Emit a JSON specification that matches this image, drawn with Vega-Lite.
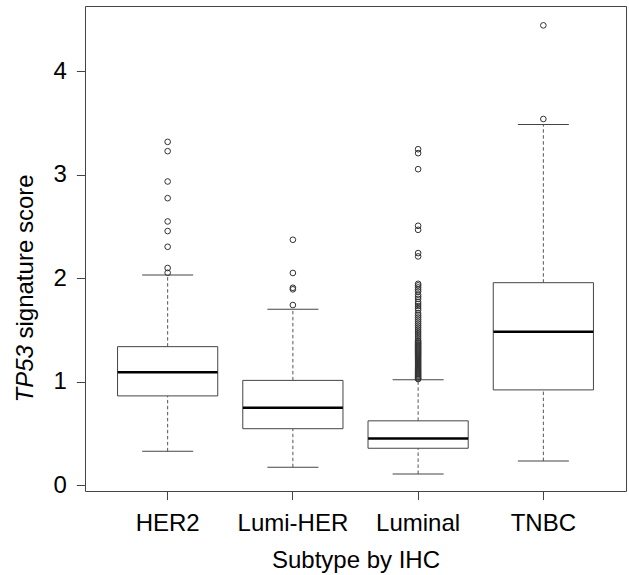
{
  "$schema": "https://vega.github.io/schema/vega-lite/v6.json",
  "width": 541,
  "height": 485,
  "autosize": "none",
  "padding": {"left": 85, "top": 6, "right": 3, "bottom": 84},
  "background": "white",
  "config": {
    "view": {"stroke": "#444", "strokeWidth": 1},
    "font": "Liberation Sans",
    "axis": {
      "labelFont": "Liberation Sans",
      "titleFont": "Liberation Sans",
      "labelFontSize": 24,
      "titleFontSize": 24,
      "titleFontWeight": "normal",
      "labelColor": "#000",
      "titleColor": "#000",
      "grid": false,
      "domain": false,
      "tickColor": "#444",
      "tickWidth": 1,
      "tickSize": 8.6
    }
  },
  "datasets": {
    "stats": [
      {"subtype": "HER2", "lower": 0.326, "q1": 0.862, "median": 1.091, "q3": 1.338, "upper": 2.030},
      {"subtype": "Lumi-HER", "lower": 0.173, "q1": 0.545, "median": 0.747, "q3": 1.012, "upper": 1.699},
      {"subtype": "Luminal", "lower": 0.108, "q1": 0.356, "median": 0.451, "q3": 0.621, "upper": 1.017},
      {"subtype": "TNBC", "lower": 0.232, "q1": 0.920, "median": 1.483, "q3": 1.956, "upper": 3.485}
    ],
    "outliers": [
      {"subtype": "HER2", "value": 3.317},
      {"subtype": "HER2", "value": 3.227},
      {"subtype": "HER2", "value": 2.934},
      {"subtype": "HER2", "value": 2.773},
      {"subtype": "HER2", "value": 2.548},
      {"subtype": "HER2", "value": 2.455},
      {"subtype": "HER2", "value": 2.303},
      {"subtype": "HER2", "value": 2.098},
      {"subtype": "HER2", "value": 2.052},
      {"subtype": "Lumi-HER", "value": 2.371},
      {"subtype": "Lumi-HER", "value": 2.050},
      {"subtype": "Lumi-HER", "value": 1.907},
      {"subtype": "Lumi-HER", "value": 1.892},
      {"subtype": "Lumi-HER", "value": 1.740},
      {"subtype": "Luminal", "value": 3.246},
      {"subtype": "Luminal", "value": 3.208},
      {"subtype": "Luminal", "value": 3.053},
      {"subtype": "Luminal", "value": 2.506},
      {"subtype": "Luminal", "value": 2.467},
      {"subtype": "Luminal", "value": 2.242},
      {"subtype": "Luminal", "value": 2.210},
      {"subtype": "Luminal", "value": 1.945},
      {"subtype": "Luminal", "value": 1.93},
      {"subtype": "Luminal", "value": 1.91},
      {"subtype": "Luminal", "value": 1.89},
      {"subtype": "Luminal", "value": 1.87},
      {"subtype": "Luminal", "value": 1.84},
      {"subtype": "Luminal", "value": 1.82},
      {"subtype": "Luminal", "value": 1.80},
      {"subtype": "Luminal", "value": 1.77},
      {"subtype": "Luminal", "value": 1.75},
      {"subtype": "Luminal", "value": 1.73},
      {"subtype": "Luminal", "value": 1.71},
      {"subtype": "Luminal", "value": 1.69},
      {"subtype": "Luminal", "value": 1.66},
      {"subtype": "Luminal", "value": 1.64},
      {"subtype": "Luminal", "value": 1.62},
      {"subtype": "Luminal", "value": 1.60},
      {"subtype": "Luminal", "value": 1.58},
      {"subtype": "Luminal", "value": 1.56},
      {"subtype": "Luminal", "value": 1.54},
      {"subtype": "Luminal", "value": 1.52},
      {"subtype": "Luminal", "value": 1.50},
      {"subtype": "Luminal", "value": 1.48},
      {"subtype": "Luminal", "value": 1.46},
      {"subtype": "Luminal", "value": 1.44},
      {"subtype": "Luminal", "value": 1.42},
      {"subtype": "Luminal", "value": 1.40},
      {"subtype": "Luminal", "value": 1.39},
      {"subtype": "Luminal", "value": 1.38},
      {"subtype": "Luminal", "value": 1.37},
      {"subtype": "Luminal", "value": 1.36},
      {"subtype": "Luminal", "value": 1.35},
      {"subtype": "Luminal", "value": 1.34},
      {"subtype": "Luminal", "value": 1.33},
      {"subtype": "Luminal", "value": 1.32},
      {"subtype": "Luminal", "value": 1.31},
      {"subtype": "Luminal", "value": 1.30},
      {"subtype": "Luminal", "value": 1.29},
      {"subtype": "Luminal", "value": 1.28},
      {"subtype": "Luminal", "value": 1.27},
      {"subtype": "Luminal", "value": 1.26},
      {"subtype": "Luminal", "value": 1.25},
      {"subtype": "Luminal", "value": 1.24},
      {"subtype": "Luminal", "value": 1.23},
      {"subtype": "Luminal", "value": 1.22},
      {"subtype": "Luminal", "value": 1.21},
      {"subtype": "Luminal", "value": 1.20},
      {"subtype": "Luminal", "value": 1.19},
      {"subtype": "Luminal", "value": 1.18},
      {"subtype": "Luminal", "value": 1.17},
      {"subtype": "Luminal", "value": 1.16},
      {"subtype": "Luminal", "value": 1.15},
      {"subtype": "Luminal", "value": 1.14},
      {"subtype": "Luminal", "value": 1.13},
      {"subtype": "Luminal", "value": 1.12},
      {"subtype": "Luminal", "value": 1.11},
      {"subtype": "Luminal", "value": 1.10},
      {"subtype": "Luminal", "value": 1.09},
      {"subtype": "Luminal", "value": 1.08},
      {"subtype": "Luminal", "value": 1.07},
      {"subtype": "Luminal", "value": 1.06},
      {"subtype": "Luminal", "value": 1.05},
      {"subtype": "Luminal", "value": 1.04},
      {"subtype": "Luminal", "value": 1.03},
      {"subtype": "Luminal", "value": 1.025},
      {"subtype": "TNBC", "value": 4.443},
      {"subtype": "TNBC", "value": 3.538}
    ]
  },
  "encoding": {
    "x": {
      "field": "subtype",
      "type": "nominal",
      "sort": ["HER2", "Lumi-HER", "Luminal", "TNBC"],
      "scale": {"type": "band", "paddingInner": 0, "paddingOuter": 0.16},
      "axis": {
        "title": "Subtype by IHC",
        "labelAngle": 0,
        "labelBaseline": "alphabetic",
        "labelPadding": 31,
        "titleBaseline": "alphabetic",
        "titleY": 76,
        "titlePadding": 0
      }
    }
  },
  "layer": [
    {
      "data": {"name": "stats"},
      "mark": {"type": "rule", "color": "#555", "strokeWidth": 1, "strokeDash": [3.5, 2.5]},
      "encoding": {
        "y": {
          "field": "lower",
          "type": "quantitative",
          "scale": {"domain": [-0.057, 4.63], "nice": false, "zero": false},
          "axis": {
            "values": [0, 1, 2, 3, 4],
            "orient": "left",
            "labelPadding": 10,
            "labelAngle": 0,
            "title": "signature score",
            "titleAngle": -90,
            "titleAlign": "left",
            "titleBaseline": "alphabetic",
            "titleX": -53,
            "titleY": 332
          }
        },
        "y2": {"field": "q1"}
      }
    },
    {
      "data": {"name": "stats"},
      "mark": {"type": "rule", "color": "#555", "strokeWidth": 1, "strokeDash": [3.5, 2.5]},
      "encoding": {
        "y": {"field": "q3", "type": "quantitative", "axis": null},
        "y2": {"field": "upper"}
      }
    },
    {
      "data": {"name": "stats"},
      "mark": {"type": "bar", "fill": "white", "stroke": "#444", "strokeWidth": 1, "width": {"band": 0.8}},
      "encoding": {
        "y": {
          "field": "q1",
          "type": "quantitative",
          "axis": {
            "orient": "left",
            "labels": false,
            "ticks": false,
            "domain": false,
            "title": "TP53",
            "titleFontStyle": "italic",
            "titleAngle": -90,
            "titleAlign": "left",
            "titleBaseline": "alphabetic",
            "titleX": -53,
            "titleY": 396
          }
        },
        "y2": {"field": "q3"}
      }
    },
    {
      "data": {"name": "stats"},
      "mark": {"type": "tick", "color": "#000", "opacity": 1, "thickness": 2.5, "size": 100, "orient": "horizontal"},
      "encoding": {
        "y": {"field": "median", "type": "quantitative", "axis": null}
      }
    },
    {
      "data": {"name": "stats"},
      "mark": {"type": "tick", "color": "#444", "opacity": 1, "thickness": 1, "size": 51, "orient": "horizontal"},
      "encoding": {
        "y": {"field": "lower", "type": "quantitative", "axis": null}
      }
    },
    {
      "data": {"name": "stats"},
      "mark": {"type": "tick", "color": "#444", "opacity": 1, "thickness": 1, "size": 51, "orient": "horizontal"},
      "encoding": {
        "y": {"field": "upper", "type": "quantitative", "axis": null}
      }
    },
    {
      "data": {"name": "outliers"},
      "mark": {"type": "point", "shape": "circle", "filled": false, "stroke": "#333", "strokeWidth": 1, "size": 32, "opacity": 1},
      "encoding": {
        "y": {"field": "value", "type": "quantitative", "axis": null}
      }
    }
  ],
  "resolve": {"axis": {"y": "independent"}}
}
